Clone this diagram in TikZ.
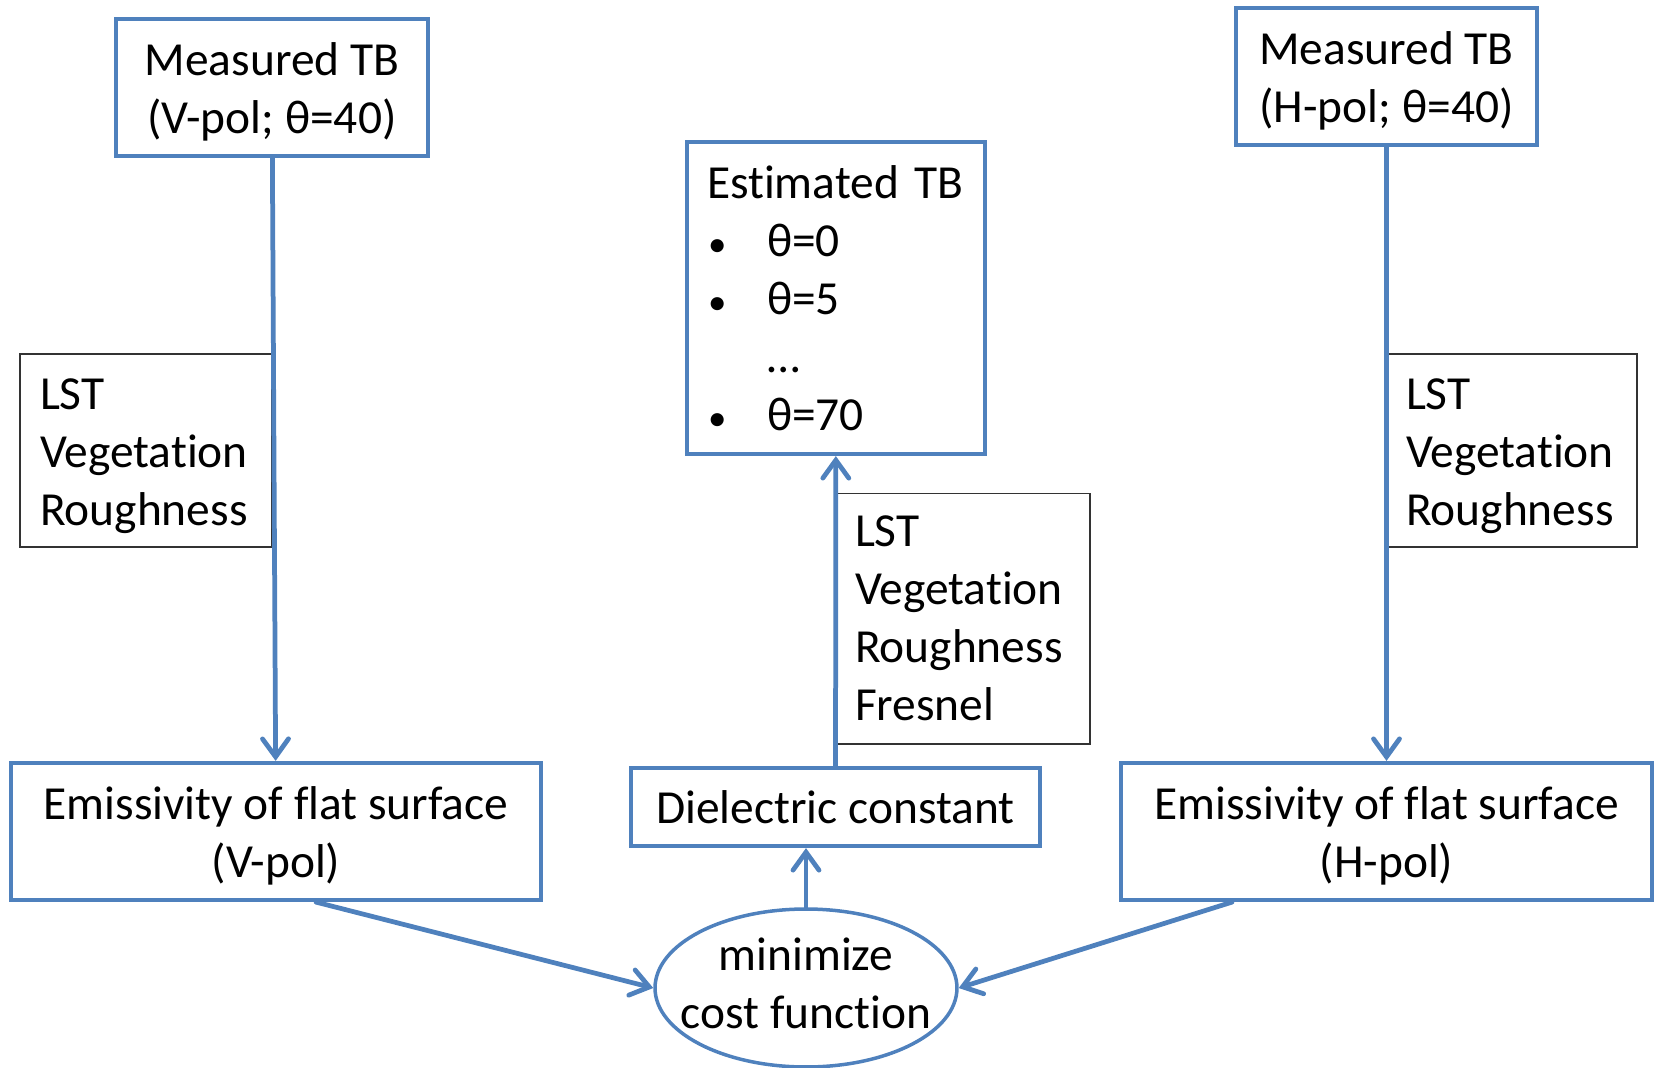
\documentclass[tikz,border=0pt]{standalone}
\usepackage{fontspec}
\setmainfont{Carlito}[Ligatures={NoCommon,NoContextual},RawFeature={-calt}]
\usetikzlibrary{arrows.meta,shapes.geometric}
\definecolor{boxblue}{HTML}{4F81BD}
\newcommand{\tbitem}{\makebox[1.2cm][l]{\hspace*{0.02cm}\fontsize{21}{21}\selectfont\textbullet}}
\newcommand{\lowstrut}{\rule{0pt}{\dimexpr\fontcharht\font`l+0.18cm\relax}}

\begin{document}
\begin{tikzpicture}[x=0.02cm,y=-0.02cm,
    >={Straight Barb[length=0.36cm,width=0.52cm,line cap=round]},
    font=\fontsize{27}{33}\selectfont,
    bluebox/.style={draw=boxblue,line width=0.085cm,fill=white,align=center,inner sep=0pt},
    notebox/.style={draw=black!80,line width=0.6pt,fill=white,align=left,inner xsep=0.4cm,inner ysep=0.1cm},
    link/.style={draw=boxblue,line width=0.095cm,line cap=round,->}]
    \useasboundingbox (0,0) rectangle (1654,1068);
    \node[notebox,text width=4.24cm,minimum height=3.86cm] (lstl) at (146,450.5) {\lowstrut LST\\Vegetation\\Roughness};
    \node[notebox,text width=4.22cm,minimum height=3.86cm] (lstr) at (1511.5,450.5) {\lowstrut LST\\Vegetation\\Roughness};
    \node[notebox,text width=4.3cm,minimum height=5.02cm] (lstm) at (962.5,618.5) {LST\\Vegetation\\Roughness\\Fresnel};
    \node[bluebox,minimum width=6.24cm,minimum height=2.74cm] (mtbv) at (272,87.5) {\lowstrut Measured TB\\(V-pol; θ=40)};
    \node[bluebox,minimum width=6.02cm,minimum height=2.74cm] (mtbh) at (1386.5,76.5) {\lowstrut Measured TB\\(H-pol; θ=40)};
    \node[bluebox,align=left,text width=5.16cm,inner sep=0.4cm,minimum height=6.24cm] (est) at (836,298)
        {Estimated TB\\
         \tbitem θ=0\\
         \tbitem θ=5\\
         \hspace*{1.2cm}…\\
         \tbitem θ=70};
    \node[bluebox,minimum width=10.6cm,minimum height=2.74cm] (emv) at (276,831.5) {\lowstrut Emissivity of flat surface\\(V-pol)};
    \node[bluebox,minimum width=8.18cm,minimum height=1.56cm] (diel) at (835.5,807) {Dielectric constant};
    \node[bluebox,minimum width=10.62cm,minimum height=2.74cm] (emh) at (1386.5,831.5) {\lowstrut Emissivity of flat surface\\(H-pol)};
    \node[ellipse,draw=boxblue,line width=0.07cm,fill=white,minimum width=6.04cm,minimum height=3.16cm,align=center,inner sep=-0.6cm] (ell) at (806,988)
        {\raisebox{0.2cm}{minimize}\\\raisebox{0.2cm}{cost function}};
    \draw[link] (mtbv) -- (emv);
    \draw[link] (mtbh) -- (emh);
    \draw[link] (diel) -- (est);
    \draw[link] (ell.north) -- (ell.north |- diel.south);
    \draw[link] ([xshift=0.8cm]emv.south) -- (ell.west);
    \draw[link] ([xshift=-3.09cm]emh.south) -- (ell.east);
\end{tikzpicture}
\end{document}
